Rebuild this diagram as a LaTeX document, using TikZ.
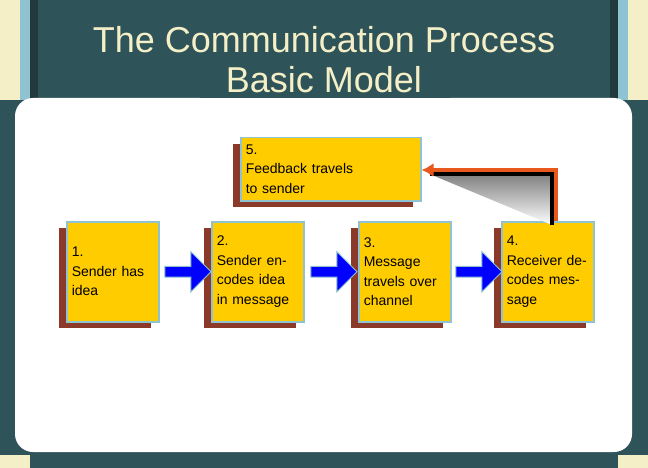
\documentclass[tikz,border=0pt]{standalone}
\usepackage{fontspec}
\setmainfont{Liberation Sans}
\usetikzlibrary{positioning,shapes.arrows,arrows.meta}
\definecolor{teal}{HTML}{2E5359}
\definecolor{gold}{HTML}{FFCC00}
\definecolor{rim}{HTML}{8FC3D2}
\definecolor{shade}{HTML}{8B3A2A}
\definecolor{flame}{HTML}{E8581C}
\definecolor{cream}{HTML}{F5EFC8}
\tikzset{
  stepbox/.style={fill=gold, draw=rim, line width=1.5pt, minimum width=92pt,
    minimum height=100pt, text width=82pt, align=left, inner sep=3pt,
    font=\fontsize{14}{19.5}\selectfont},
  boxshadow/.style={fill=shade},
  flow/.style={single arrow, fill=blue, draw=rim, line width=1pt,
    minimum width=40pt, single arrow head extend=4pt, minimum height=46pt, inner sep=1pt}
}
\begin{document}
\begin{tikzpicture}[x=1pt,y=-1pt]

    % Background and side stripes
    \fill[teal] (0,0) rectangle (648,468);
    \fill[cream] (0,0) rectangle (30,100);
    \fill[rim] (20,0) rectangle (30,100);
    \fill[cream] (618,0) rectangle (648,100);
    \fill[rim] (618,0) rectangle (628,100);
    \fill[teal!70!black] (30,0) rectangle (38,100);
    \fill[teal!70!black] (610,0) rectangle (618,100);
    \fill[cream] (0,455) rectangle (30,468);
    \fill[cream] (618,455) rectangle (648,468);

    % Title
    \node[text=cream, font=\fontsize{36}{40}\selectfont, align=center] (title) at (324,60)
        {The Communication Process\\Basic Model};

    % White panel
    \fill[white, rounded corners=18pt] (15,98) rectangle (632,452);
    \fill[teal] (200,96) rectangle (450,98);

    % Shadows
    \foreach \x in {66,211,358,501} {
        \fill[boxshadow] (\x-7,228) rectangle (\x+85,328);
    }
    \fill[boxshadow] (233,144) rectangle (413,207);

    % Boxes
    \node[stepbox, anchor=north west] (sender) at (66,221) {1.\\Sender has idea};
    \node[stepbox, anchor=north west] (encode) at (211,221) {2.\\Sender encodes idea in message};
    \node[stepbox, anchor=north west] (channel) at (358,221) {3.\\Message travels over channel};
    \node[stepbox, anchor=north west] (receiver) at (501,221) {4.\\Receiver decodes message};
    \node[stepbox, anchor=north west, minimum width=180pt, minimum height=63pt, text width=170pt] (feedback)
        at (240,137) {5.\\Feedback travels\\to sender};

    % Flow arrows
    \foreach \a/\b in {sender/encode, encode/channel, channel/receiver} {
        \path (\a.east) -- (\b.west) node[midway, flow] (arr-\a) {};
    }

    % Feedback path
    \coordinate (corner) at (556,170);
    \draw[shade, line width=4pt] ([xshift=-4pt,yshift=-4pt]receiver.north -| corner) -- ([xshift=-4pt,yshift=-4pt]corner)
        -- ([xshift=8pt,yshift=-4pt]feedback.east |- corner);
    \draw[flame, line width=4pt, -{Latex[length=12pt,width=14pt]}] (receiver.north -| corner) -- (corner)
        -- (feedback.east |- corner);

\end{tikzpicture}
\end{document}
